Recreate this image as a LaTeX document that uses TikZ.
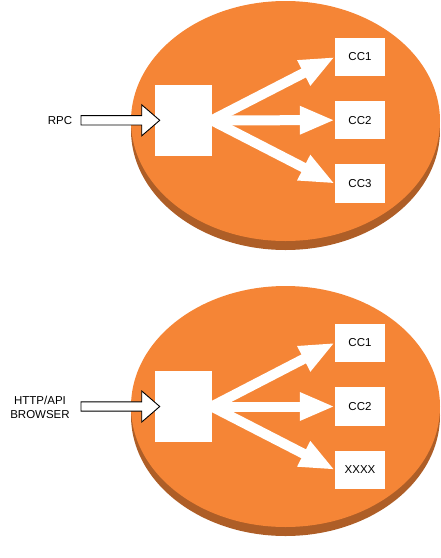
\documentclass[tikz,border=0pt]{standalone}
\usepackage{fontspec}
\setmainfont{Liberation Sans}
\usetikzlibrary{arrows.meta,calc}
\definecolor{discorange}{HTML}{F58536}
\definecolor{discside}{HTML}{AE5E27}
\newcommand{\inarrow}[2]{%
  \draw[fill=white,line width=0.9pt,line join=miter] let \p1=(#1),\p2=(#2) in
    (\x1,\y2+4.65pt) -- (\x2-13pt,\y2+4.65pt) -- (\x2-13pt,\y2+15.5pt) -- (\x2+5pt,\y2)
    -- (\x2-13pt,\y2-15.5pt) -- (\x2-13pt,\y2-4.65pt) -- (\x1,\y2-4.65pt) -- cycle;}
\begin{document}
\begin{tikzpicture}[x=1pt,y=-1pt,
  txt/.style={font=\fontsize{11.5}{13.3}\selectfont},
  box/.style={txt,fill=white,draw=none,minimum width=50pt,minimum height=38.5pt,inner sep=0pt},
  hub/.style={fill=white,draw=none,minimum width=56.7pt,minimum height=70.5pt,inner sep=0pt},
  flow/.style={white,line width=10pt,-{Triangle[length=35pt,width=26pt]}},
  lbl/.style={txt,align=center,inner sep=0pt},
]
\useasboundingbox (0,0) rectangle (441,558);

% top disc
\fill[discside] (285.5,130) ellipse [x radius=154.5, y radius=120];
\fill[discside] (131,121) rectangle (440,130);
\fill[discorange] (285.5,121) ellipse [x radius=154.5, y radius=120];

% bottom disc
\fill[discside] (285.5,415.5) ellipse [x radius=154.5, y radius=120.5];
\fill[discside] (131,406.5) rectangle (440,415.5);
\fill[discorange] (285.5,406.5) ellipse [x radius=154.5, y radius=120.5];

% top group
\node[box] (a1) at (360,57) {CC1};
\node[box] (a2) at (360,120.2) {CC2};
\node[box] (a3) at (360,183.6) {CC3};
\coordinate (hA) at (211.7,120.3);
\draw[flow] (hA) -- (a1.west);
\draw[flow] (hA) -- (a2.west);
\draw[flow] (hA) -- (a3.west);
\node[hub] (sqA) at (183.3,120.3) {};
\node[lbl] (rpc) at (60,121) {RPC};
\coordinate (rpcstart) at (81,121.5);
\inarrow{rpcstart}{sqA.west}

% bottom group
\node[box] (b1) at (360,342.8) {CC1};
\node[box] (b2) at (360,406.5) {CC2};
\node[box] (b3) at (360,469.8) {XXXX};
\coordinate (hB) at (211.7,406.5);
\draw[flow] (hB) -- (b1.west);
\draw[flow] (hB) -- (b2.west);
\draw[flow] (hB) -- (b3.west);
\node[hub] (sqB) at (183.3,406.5) {};
\node[lbl] (http) at (40,407.5) {HTTP/API\\BROWSER};
\coordinate (httpstart) at (81,407.3);
\inarrow{httpstart}{sqB.west}
\end{tikzpicture}
\end{document}
